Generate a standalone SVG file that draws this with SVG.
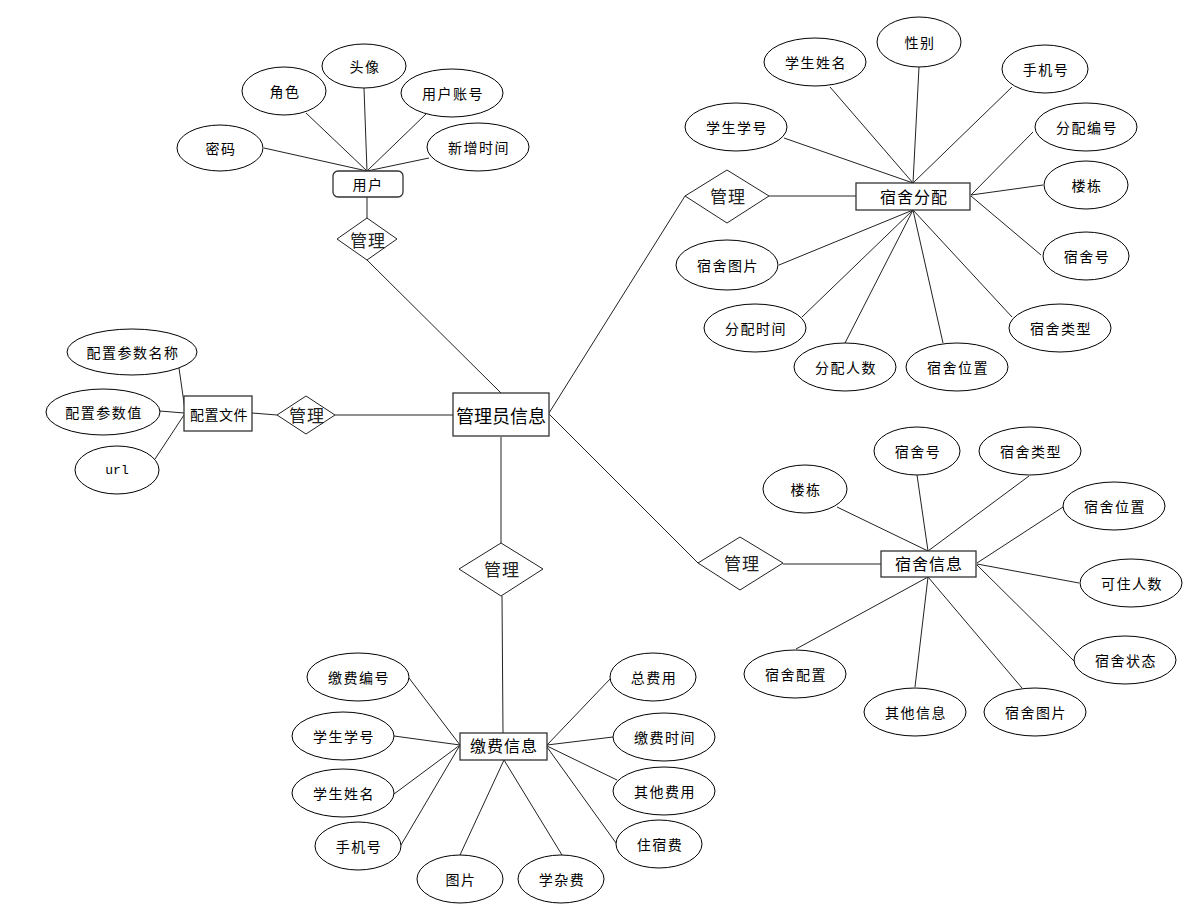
<svg xmlns="http://www.w3.org/2000/svg" width="1191" height="918" viewBox="0 0 1191 918">
<style>
.e{fill:#fff;stroke:#000;stroke-width:1}
.r{fill:#fff;stroke:#333;stroke-width:1.3}
.d{fill:#fff;stroke:#222;stroke-width:1}
.c line{stroke:#222;stroke-width:1}
text{font-family:"Noto Sans CJK SC","Liberation Sans",sans-serif;fill:#000;text-anchor:middle;dominant-baseline:central}
.a{font-size:14px;letter-spacing:1.5px}
.rel{font-size:17px;letter-spacing:1px;fill:#222}
.ent{font-size:16px;letter-spacing:1px}
.big{font-size:18px}
.m{font-family:"Liberation Mono",monospace;font-size:13px}
</style>
<rect width="1191" height="918" fill="#fff"/>
<g class="c" id="connectors">
<!-- user -->
<line x1="264" y1="148" x2="367" y2="171"/>
<line x1="306" y1="113" x2="367" y2="171"/>
<line x1="364" y1="88" x2="367" y2="171"/>
<line x1="426" y1="114" x2="367" y2="171"/>
<line x1="429" y1="158" x2="367" y2="171"/>
<line x1="367" y1="197" x2="367" y2="218"/>
<line x1="367" y1="260" x2="501" y2="393"/>
<!-- config -->
<line x1="179" y1="368" x2="185" y2="410"/>
<line x1="160" y1="411" x2="184" y2="413"/>
<line x1="155" y1="459" x2="184" y2="415"/>
<line x1="252" y1="413" x2="277" y2="415"/>
<line x1="335" y1="415" x2="453" y2="415"/>
<!-- admin to dorm allocation -->
<line x1="549" y1="413" x2="685" y2="196"/>
<line x1="769" y1="196" x2="856" y2="196"/>
<line x1="784" y1="138" x2="913" y2="183"/>
<line x1="830" y1="87" x2="913" y2="183"/>
<line x1="919" y1="67" x2="913" y2="183"/>
<line x1="1012" y1="87" x2="913" y2="183"/>
<line x1="1033" y1="132" x2="971" y2="195"/>
<line x1="1043" y1="185" x2="971" y2="195"/>
<line x1="1041" y1="255" x2="971" y2="196"/>
<line x1="779" y1="265" x2="913" y2="210"/>
<line x1="802" y1="317" x2="913" y2="210"/>
<line x1="845" y1="343" x2="913" y2="210"/>
<line x1="943" y1="343" x2="913" y2="210"/>
<line x1="1012" y1="317" x2="913" y2="210"/>
<!-- admin to dorm info -->
<line x1="549" y1="414" x2="698" y2="563"/>
<line x1="783" y1="564" x2="881" y2="564"/>
<line x1="837" y1="507" x2="928" y2="551"/>
<line x1="917" y1="475" x2="928" y2="551"/>
<line x1="1029" y1="476" x2="928" y2="551"/>
<line x1="1063" y1="507" x2="977" y2="563"/>
<line x1="1079" y1="583" x2="977" y2="564"/>
<line x1="1074" y1="661" x2="977" y2="565"/>
<line x1="796" y1="649" x2="928" y2="577"/>
<line x1="915" y1="687" x2="928" y2="577"/>
<line x1="1022" y1="688" x2="928" y2="577"/>
<!-- admin to payment -->
<line x1="501" y1="437" x2="501" y2="543"/>
<line x1="502" y1="596" x2="503" y2="733"/>
<line x1="409" y1="678" x2="460" y2="745"/>
<line x1="394" y1="736" x2="460" y2="745"/>
<line x1="394" y1="794" x2="460" y2="745"/>
<line x1="401" y1="845" x2="460" y2="745"/>
<line x1="611" y1="678" x2="547" y2="745"/>
<line x1="613" y1="737" x2="547" y2="745"/>
<line x1="617" y1="780" x2="547" y2="746"/>
<line x1="616" y1="843" x2="547" y2="747"/>
<line x1="460" y1="855" x2="504" y2="760"/>
<line x1="562" y1="855" x2="504" y2="760"/>
</g>

<!-- User -->
<g id="user"><rect class="r" x="333" y="171" width="70" height="26" rx="5"/><text class="a" x="368" y="184">用户</text></g>
<g id="user-pwd"><ellipse class="e" cx="220" cy="148" rx="43" ry="23"/><text class="a" x="221" y="148">密码</text></g>
<g id="user-role"><ellipse class="e" cx="284" cy="91" rx="42" ry="24"/><text class="a" x="285" y="91">角色</text></g>
<g id="user-avatar"><ellipse class="e" cx="364" cy="66" rx="42" ry="22"/><text class="a" x="365" y="66">头像</text></g>
<g id="user-account"><ellipse class="e" cx="452" cy="93" rx="51" ry="24"/><text class="a" x="453" y="93">用户账号</text></g>
<g id="user-time"><ellipse class="e" cx="478" cy="147" rx="51" ry="24"/><text class="a" x="479" y="147">新增时间</text></g>
<g id="rel-user"><polygon class="d" points="367,218 397,239 367,260 337,239"/><text class="rel" x="368" y="239">管理</text></g>

<!-- Admin -->
<g id="admin"><rect class="r" x="453" y="393" width="96" height="43"/><text class="big" x="501" y="415">管理员信息</text></g>

<!-- Config -->
<g id="config"><rect class="r" x="184" y="396" width="68" height="35"/><text class="a" x="219" y="414" style="letter-spacing:0.5px">配置文件</text></g>
<g id="cfg-name"><ellipse class="e" cx="132" cy="352" rx="65" ry="23"/><text class="a" x="133" y="352">配置参数名称</text></g>
<g id="cfg-val"><ellipse class="e" cx="103" cy="412" rx="57" ry="23"/><text class="a" x="104" y="412">配置参数值</text></g>
<g id="cfg-url"><ellipse class="e" cx="117" cy="470" rx="42" ry="24"/><text class="m" x="117" y="470">url</text></g>
<g id="rel-config"><polygon class="d" points="277,415 306,396 335,415 306,434"/><text class="rel" x="307" y="414">管理</text></g>

<!-- Dorm allocation -->
<g id="alloc"><rect class="r" x="856" y="183" width="114" height="27"/><text class="ent" x="914" y="196">宿舍分配</text></g>
<g id="rel-alloc"><polygon class="d" points="685,196 727,170 769,196 727,223"/><text class="rel" x="728" y="195">管理</text></g>
<g id="al-sno"><ellipse class="e" cx="736" cy="127" rx="51" ry="24"/><text class="a" x="737" y="127">学生学号</text></g>
<g id="al-sname"><ellipse class="e" cx="815" cy="62" rx="51" ry="24"/><text class="a" x="816" y="62">学生姓名</text></g>
<g id="al-sex"><ellipse class="e" cx="919" cy="42" rx="42" ry="25"/><text class="a" x="920" y="42">性别</text></g>
<g id="al-phone"><ellipse class="e" cx="1045" cy="69" rx="43" ry="24"/><text class="a" x="1046" y="69">手机号</text></g>
<g id="al-id"><ellipse class="e" cx="1086" cy="127" rx="51" ry="24"/><text class="a" x="1087" y="127">分配编号</text></g>
<g id="al-bld"><ellipse class="e" cx="1086" cy="185" rx="42" ry="24"/><text class="a" x="1087" y="185">楼栋</text></g>
<g id="al-room"><ellipse class="e" cx="1086" cy="256" rx="43" ry="24"/><text class="a" x="1087" y="256">宿舍号</text></g>
<g id="al-pic"><ellipse class="e" cx="727" cy="265" rx="51" ry="25"/><text class="a" x="728" y="265">宿舍图片</text></g>
<g id="al-time"><ellipse class="e" cx="755" cy="328" rx="51" ry="24"/><text class="a" x="756" y="328">分配时间</text></g>
<g id="al-num"><ellipse class="e" cx="845" cy="367" rx="51" ry="24"/><text class="a" x="846" y="367">分配人数</text></g>
<g id="al-loc"><ellipse class="e" cx="957" cy="367" rx="51" ry="24"/><text class="a" x="958" y="367">宿舍位置</text></g>
<g id="al-type"><ellipse class="e" cx="1060" cy="328" rx="51" ry="24"/><text class="a" x="1061" y="328">宿舍类型</text></g>

<!-- Dorm info -->
<g id="dorm"><rect class="r" x="881" y="551" width="95" height="26"/><text class="ent" x="929" y="563">宿舍信息</text></g>
<g id="rel-dorm"><polygon class="d" points="698,563 740,537 783,563 740,590"/><text class="rel" x="742" y="562">管理</text></g>
<g id="dm-bld"><ellipse class="e" cx="805" cy="489" rx="42" ry="24"/><text class="a" x="806" y="489">楼栋</text></g>
<g id="dm-room"><ellipse class="e" cx="917" cy="451" rx="43" ry="24"/><text class="a" x="918" y="451">宿舍号</text></g>
<g id="dm-type"><ellipse class="e" cx="1030" cy="451" rx="51" ry="24"/><text class="a" x="1031" y="451">宿舍类型</text></g>
<g id="dm-loc"><ellipse class="e" cx="1114" cy="506" rx="51" ry="24"/><text class="a" x="1115" y="506">宿舍位置</text></g>
<g id="dm-cap"><ellipse class="e" cx="1131" cy="583" rx="51" ry="24"/><text class="a" x="1132" y="583">可住人数</text></g>
<g id="dm-state"><ellipse class="e" cx="1125" cy="660" rx="51" ry="24"/><text class="a" x="1126" y="660">宿舍状态</text></g>
<g id="dm-conf"><ellipse class="e" cx="795" cy="674" rx="51" ry="24"/><text class="a" x="796" y="674">宿舍配置</text></g>
<g id="dm-other"><ellipse class="e" cx="915" cy="712" rx="51" ry="24"/><text class="a" x="916" y="712">其他信息</text></g>
<g id="dm-pic"><ellipse class="e" cx="1035" cy="712" rx="51" ry="24"/><text class="a" x="1036" y="712">宿舍图片</text></g>

<!-- Payment -->
<g id="rel-pay"><polygon class="d" points="459,569 501,543 543,569 501,596"/><text class="rel" x="502" y="568">管理</text></g>
<g id="pay"><rect class="r" x="460" y="733" width="87" height="27"/><text class="ent" x="504" y="745">缴费信息</text></g>
<g id="py-id"><ellipse class="e" cx="358" cy="677" rx="51" ry="24"/><text class="a" x="359" y="677">缴费编号</text></g>
<g id="py-sno"><ellipse class="e" cx="343" cy="736" rx="51" ry="24"/><text class="a" x="344" y="736">学生学号</text></g>
<g id="py-sname"><ellipse class="e" cx="343" cy="793" rx="51" ry="24"/><text class="a" x="344" y="793">学生姓名</text></g>
<g id="py-phone"><ellipse class="e" cx="358" cy="846" rx="43" ry="24"/><text class="a" x="359" y="846">手机号</text></g>
<g id="py-pic"><ellipse class="e" cx="460" cy="879" rx="43" ry="24"/><text class="a" x="461" y="879">图片</text></g>
<g id="py-misc"><ellipse class="e" cx="561" cy="879" rx="43" ry="24"/><text class="a" x="562" y="879">学杂费</text></g>
<g id="py-total"><ellipse class="e" cx="653" cy="677" rx="43" ry="24"/><text class="a" x="654" y="677">总费用</text></g>
<g id="py-time"><ellipse class="e" cx="664" cy="737" rx="51" ry="24"/><text class="a" x="665" y="737">缴费时间</text></g>
<g id="py-other"><ellipse class="e" cx="664" cy="791" rx="51" ry="24"/><text class="a" x="665" y="791">其他费用</text></g>
<g id="py-stay"><ellipse class="e" cx="659" cy="844" rx="43" ry="24"/><text class="a" x="660" y="844">住宿费</text></g>
</svg>
